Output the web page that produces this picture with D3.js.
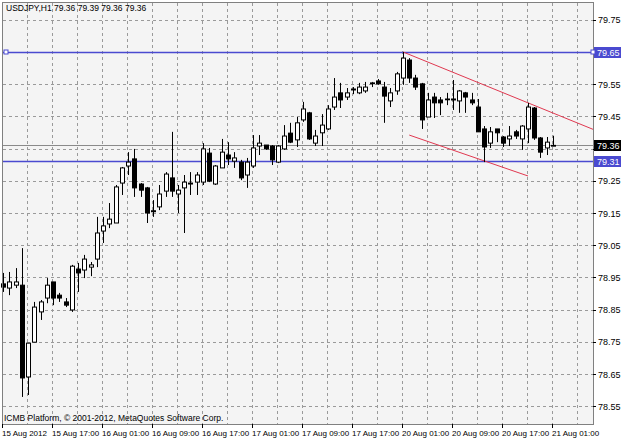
<!DOCTYPE html>
<html><head><meta charset="utf-8">
<script src="https://cdn.jsdelivr.net/npm/d3@7"></script>
<style>body{margin:0;background:#fff}svg{display:block}text{font-family:"Liberation Sans",Arial,sans-serif}</style>
</head><body><svg id="c" width="625" height="438"></svg>
<script>
const opens=[78.93,78.917,78.926,78.926,78.641,78.749,78.843,78.886,78.936,78.895,78.874,78.849,78.976,78.973,78.982,79.007,79.094,79.116,79.119,79.243,79.296,79.318,79.240,79.228,79.157,79.169,79.218,79.259,79.209,79.228,79.240,79.246,79.246,79.336,79.240,79.290,79.330,79.311,79.308,79.268,79.296,79.358,79.361,79.358,79.308,79.349,79.398,79.377,79.439,79.461,79.367,79.399,79.411,79.479,79.523,79.510,79.532,79.523,79.529,79.554,79.560,79.541,79.498,79.529,79.569,79.625,79.569,79.551,79.448,79.510,79.501,79.504,79.501,79.498,79.523,79.501,79.479,79.411,79.367,79.411,79.386,79.380,79.402,79.380,79.411,79.476,79.383,79.352,79.36];
const highs=[78.964,78.967,78.979,79.041,78.746,78.874,78.880,78.948,78.936,78.902,78.886,78.989,78.995,79.020,78.998,79.138,79.138,79.181,79.237,79.293,79.339,79.349,79.243,79.231,79.190,79.237,79.277,79.402,79.237,79.268,79.277,79.277,79.367,79.352,79.299,79.380,79.370,79.339,79.315,79.321,79.392,79.392,79.361,79.361,79.361,79.423,79.430,79.448,79.495,79.464,79.408,79.457,79.485,79.569,79.554,79.538,79.541,79.554,79.557,79.557,79.566,79.557,79.538,79.588,79.650,79.631,79.579,79.554,79.523,79.523,79.510,79.523,79.563,79.532,79.526,79.523,79.504,79.420,79.417,79.411,79.389,79.420,79.408,79.423,79.492,79.479,79.386,79.386,79.39];
const lows=[78.905,78.895,78.917,78.579,78.585,78.749,78.818,78.870,78.864,78.874,78.858,78.843,78.905,78.948,78.954,78.982,79.057,79.103,79.119,79.206,79.268,79.200,79.200,79.119,79.138,79.159,79.200,79.200,79.150,79.088,79.206,79.206,79.237,79.246,79.237,79.290,79.299,79.290,79.252,79.228,79.290,79.330,79.346,79.299,79.305,79.346,79.367,79.355,79.433,79.377,79.358,79.358,79.408,79.470,79.476,79.501,79.519,79.519,79.523,79.541,79.548,79.430,79.479,79.517,79.548,79.554,79.532,79.411,79.448,79.445,79.454,79.485,79.470,79.461,79.461,79.485,79.402,79.308,79.352,79.370,79.355,79.358,79.380,79.346,79.367,79.377,79.321,79.330,79.36];
const closes=[78.92,78.936,78.936,78.638,78.746,78.858,78.874,78.926,78.886,78.886,78.864,78.985,78.964,79.007,78.989,79.088,79.110,79.131,79.231,79.290,79.308,79.228,79.221,79.150,79.154,79.209,79.271,79.218,79.221,79.246,79.243,79.268,79.349,79.249,79.296,79.339,79.318,79.321,79.259,79.308,79.352,79.367,79.349,79.315,79.358,79.389,79.370,79.430,79.473,79.380,79.389,79.423,79.473,79.510,79.501,79.523,79.535,79.541,79.541,79.554,79.551,79.513,79.523,79.582,79.631,79.569,79.541,79.439,79.501,79.492,79.492,79.504,79.504,79.529,79.510,79.492,79.402,79.355,79.402,79.399,79.367,79.389,79.389,79.420,79.479,79.383,79.339,79.370,79.36];
const priceTicks=[79.75,79.65,79.55,79.45,79.35,79.25,79.15,79.05,78.95,78.85,78.75,78.65,78.55];
const shownPriceTicks=[79.75,79.55,79.45,79.25,79.15,79.05,78.95,78.85,78.75,78.65,78.55];
const timeLabels=["15 Aug 2012","15 Aug 17:00","16 Aug 01:00","16 Aug 09:00","16 Aug 17:00","17 Aug 01:00","17 Aug 09:00","17 Aug 17:00","20 Aug 01:00","20 Aug 09:00","20 Aug 17:00","21 Aug 01:00"];
const hLevels=[79.65,79.31];
const bid=79.36;
const upperTrend=[[64,79.650],[84,79.492]];
const lowerTrend=[[65,79.392],[84,79.265]];

const svg=d3.select("#c");
const L=3,R=593,T=3,B=424;
const BLUE="#4a4ad0";
const x=d3.scaleLinear().domain([0,94.4]).range([L,R]);
const y=d3.scaleLinear().domain([78.495,79.802]).range([B,T]);
svg.append("rect").attr("x",L).attr("y",T).attr("width",R-L).attr("height",B-T).attr("fill","#f4f4f4");
const g=svg.append("g");
g.selectAll(".hg").data(priceTicks).join("line").attr("x1",L).attr("x2",R).attr("y1",d=>Math.round(y(d))+.5).attr("y2",d=>Math.round(y(d))+.5).attr("stroke","#9a9a9a").attr("stroke-dasharray","3,3");
const vgi=d3.range(4,95,4);
g.selectAll(".vg").data(vgi).join("line").attr("y1",T).attr("y2",B).attr("x1",d=>Math.round(x(d))-0.5).attr("x2",d=>Math.round(x(d))-0.5).attr("stroke","#9a9a9a").attr("stroke-dasharray","3,3");
g.append("line").attr("x1",L).attr("x2",R).attr("y1",Math.round(y(bid))+.5).attr("y2",Math.round(y(bid))+.5).attr("stroke","#8a8a8a");
g.selectAll(".hl").data(hLevels).join("line").attr("x1",L).attr("x2",R).attr("y1",d=>Math.round(y(d))+.5).attr("y2",d=>Math.round(y(d))+.5).attr("stroke",BLUE).attr("stroke-width",1.5);
g.append("rect").attr("x",L+1).attr("y",Math.round(y(79.65))-2).attr("width",4).attr("height",4).attr("fill","#fff").attr("stroke",BLUE);
const su=(upperTrend[1][1]-upperTrend[0][1])/(upperTrend[1][0]-upperTrend[0][0]);const xEnd=x.invert(R);
g.append("line").attr("x1",x(upperTrend[0][0])).attr("y1",y(upperTrend[0][1])).attr("x2",R).attr("y2",y(upperTrend[0][1]+su*(xEnd-upperTrend[0][0]))).attr("stroke","#e03850");
g.append("line").attr("x1",x(lowerTrend[0][0])).attr("y1",y(lowerTrend[0][1])).attr("x2",x(lowerTrend[1][0])).attr("y2",y(lowerTrend[1][1])).attr("stroke","#e03850");
const cg=g.append("g");
d3.range(opens.length).forEach(i=>{
  const cx=Math.round(x(i))+.5;
  cg.append("line").attr("x1",cx).attr("x2",cx).attr("y1",y(highs[i])).attr("y2",y(lows[i])).attr("stroke","#000");
  const t=y(Math.max(opens[i],closes[i])),b=y(Math.min(opens[i],closes[i]));
  const up=closes[i]>=opens[i];
  cg.append("rect").attr("x",cx-2).attr("y",t).attr("width",4).attr("height",Math.max(b-t,0.8)).attr("fill",up?"#fff":"#000").attr("stroke","#000");
});
svg.append("rect").attr("x",L-.5).attr("y",T-.5).attr("width",R-L+1).attr("height",B-T+1).attr("fill","none").attr("stroke","#808080");
svg.selectAll(".yl").data(shownPriceTicks).join("text").attr("x",R+5).attr("y",d=>y(d)+3.5).attr("font-size",9).attr("fill","#000").text(d=>d.toFixed(2));
svg.selectAll(".yt").data(priceTicks).join("line").attr("x1",R).attr("x2",R+3).attr("y1",d=>Math.round(y(d))+.5).attr("y2",d=>Math.round(y(d))+.5).attr("stroke","#000");
function box(p,fill,mark){const yy=Math.round(y(p));svg.append("rect").attr("x",R+1).attr("y",yy-5).attr("width",27).attr("height",11).attr("fill",fill);
svg.append("text").attr("x",R+4).attr("y",yy+3.5).attr("font-size",9).attr("fill","#fff").text(p.toFixed(2));
if(mark)svg.append("rect").attr("x",R-2).attr("y",yy-2).attr("width",4).attr("height",4).attr("fill","#fff").attr("stroke",BLUE);}
box(79.65,BLUE,true);box(79.31,BLUE,false);box(bid,"#000",false);
svg.selectAll(".xl").data(timeLabels).join("text").attr("x",(d,i)=>x(i*8)-1).attr("y",436).attr("font-size",8).attr("fill","#000").text(d=>d);
svg.selectAll(".xt").data(timeLabels).join("line").attr("x1",(d,i)=>Math.round(x(i*8))-.5).attr("x2",(d,i)=>Math.round(x(i*8))-.5).attr("y1",B).attr("y2",B+4).attr("stroke","#000");
svg.append("text").attr("x",6).attr("y",11).attr("font-size",8.5).text("USDJPY,H1  79.36 79.39 79.36 79.36");
svg.append("text").attr("x",4).attr("y",421).attr("font-size",8.5).text("ICMB Platform, © 2001-2012, MetaQuotes Software Corp.");
</script></body></html>
